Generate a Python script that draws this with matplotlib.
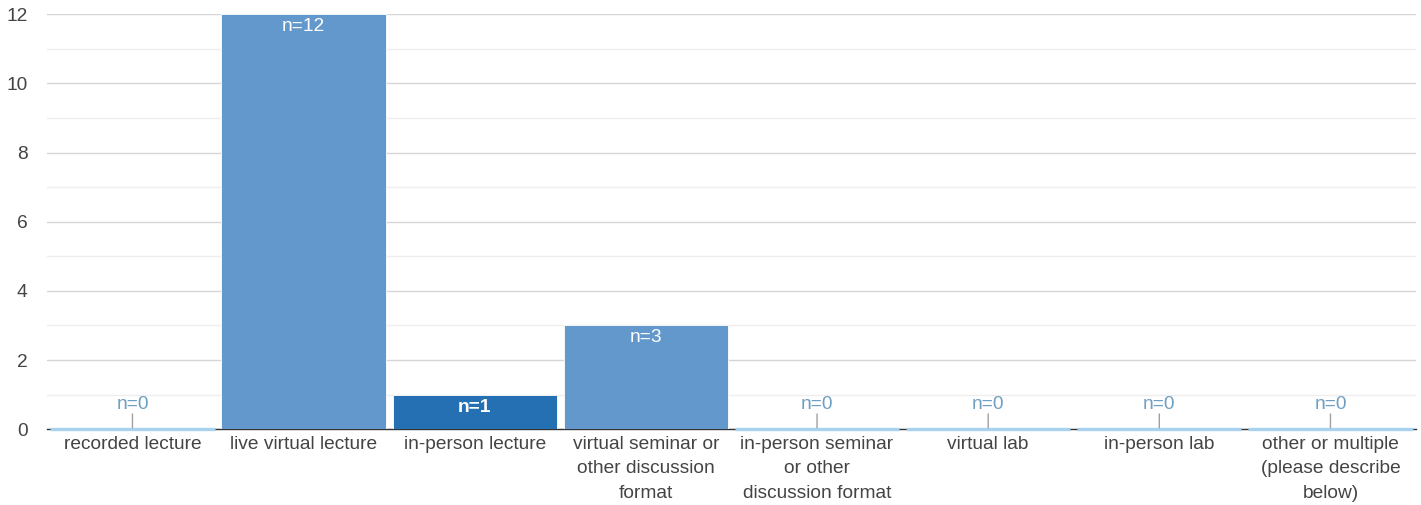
import matplotlib
matplotlib.use("Agg")
import matplotlib.pyplot as plt
from matplotlib.ticker import MultipleLocator

categories = ["recorded lecture", "live virtual lecture", "in-person lecture",
              "virtual seminar or\nother discussion\nformat",
              "in-person seminar\nor other\ndiscussion format",
              "virtual lab", "in-person lab",
              "other or multiple\n(please describe\nbelow)"]
values = [0, 12, 1, 3, 0, 0, 0, 0]
bar_colors = ["#6398cc", "#6398cc", "#2470b3", "#6398cc",
              "#6398cc", "#6398cc", "#6398cc", "#6398cc"]
yticks = [0, 2, 4, 6, 8, 10, 12]

plt.rcParams['font.family'] = ['Liberation Sans', 'DejaVu Sans']
FS = 13.8

fig = plt.figure(figsize=(14.21, 5.05), dpi=100)
ax = fig.add_axes([0.033, 0.150, 0.9635, 0.822])

x = list(range(len(categories)))
width = 0.96
ax.bar(x, values, width=width, color=bar_colors, zorder=3,
       edgecolor="white", linewidth=0.6)

for xi, v in zip(x, values):
    if v == 0:
        ax.hlines(0, xi - width / 2, xi + width / 2, color="#a9d2ee",
                  linewidth=2.4, zorder=4, clip_on=False)
        ax.annotate("n=0", (xi, 0), xytext=(0, 18), textcoords="offset points",
                    ha="center", va="center", fontsize=FS, color="#6d9fc2", zorder=5)
        ax.annotate("", (xi, 0), xytext=(0, 11), textcoords="offset points",
                    arrowprops=dict(arrowstyle="-", color="#a0a0a0", lw=1,
                                    shrinkA=0, shrinkB=1), zorder=5)
    else:
        ax.annotate(f"n={v}", (xi, v), xytext=(0, -9), textcoords="offset points",
                    ha="center", va="center", fontsize=FS, color="white",
                    fontweight="bold" if v == 1 else "normal", zorder=5)

ax.set_xlim(-0.5, len(categories) - 0.5)
ax.set_ylim(0, 12)
ax.set_yticks(yticks)
ax.yaxis.set_minor_locator(MultipleLocator(1))
ax.grid(axis="y", which="major", color="#d6d6d6", linewidth=1, zorder=0)
ax.grid(axis="y", which="minor", color="#eeeeee", linewidth=1, zorder=0)
ax.set_axisbelow(True)

ax.set_xticks(x)
ax.set_xticklabels(categories, fontsize=FS, color="#444444", linespacing=1.56)
ax.tick_params(axis="x", length=0, pad=5)
ax.tick_params(axis="y", which="both", length=0, labelsize=FS, labelcolor="#444444", pad=14)

for s in ["top", "right", "left"]:
    ax.spines[s].set_visible(False)
ax.spines["bottom"].set_color("#333333")
ax.spines["bottom"].set_linewidth(1)
ax.spines["bottom"].set_zorder(2)

fig.savefig("out.png", dpi=100, facecolor="white")
